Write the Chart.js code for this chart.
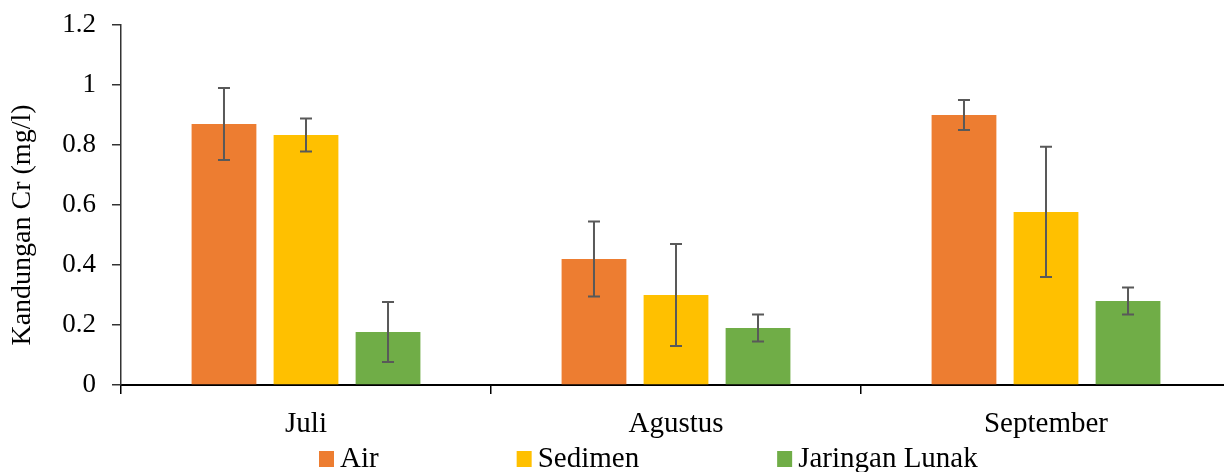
<!DOCTYPE html>
<html>
<head>
<meta charset="utf-8">
<script src="https://cdn.jsdelivr.net/npm/chart.js@4"></script>
<style>
  html, body { margin: 0; padding: 0; background: #fff; overflow: hidden; }
  #wrap { width: 1232px; height: 472px; }
</style>
</head>
<body>
<div id="wrap"><canvas id="chart"></canvas></div>
<script>
const months = ['Juli', 'Agustus', 'September'];
const airVals = [0.87, 0.42, 0.90];
const airErr = [0.12, 0.125, 0.05];
const sedimenVals = [0.833, 0.30, 0.577];
const sedimenErr = [0.055, 0.17, 0.217];
const lunakVals = [0.177, 0.19, 0.28];
const lunakErr = [0.10, 0.045, 0.045];
const yTicks = [0, 0.2, 0.4, 0.6, 0.8, 1, 1.2];
const yTitle = 'Kandungan Cr (mg/l)';

const errors = [airErr, sedimenErr, lunakErr];
const serif = "'Liberation Serif', 'Times New Roman', serif";

// whiskers on top of each bar
const errorBars = {
  id: 'errorBars',
  afterDatasetsDraw(chart){
    const ctx = chart.ctx;
    const y = chart.scales.y;
    ctx.save();
    ctx.strokeStyle = '#595959';
    ctx.lineWidth = 2;
    chart.data.datasets.forEach((ds, i) => {
      chart.getDatasetMeta(i).data.forEach((bar, j) => {
        const v = ds.data[j], e = errors[i][j];
        const top = y.getPixelForValue(v + e);
        const bot = y.getPixelForValue(v - e);
        ctx.beginPath();
        ctx.moveTo(bar.x, top); ctx.lineTo(bar.x, bot);
        ctx.moveTo(bar.x - 6, top); ctx.lineTo(bar.x + 6, top);
        ctx.moveTo(bar.x - 6, bot); ctx.lineTo(bar.x + 6, bot);
        ctx.stroke();
      });
    });
    ctx.restore();
  }
};

// excel style legend + axis title (placed like the excel original)
const excelBits = {
  id: 'excelBits',
  afterDraw(chart){
    const ctx = chart.ctx;
    ctx.save();
    ctx.font = '29px ' + serif;
    ctx.textBaseline = 'alphabetic';
    let x = 319;
    chart.data.datasets.forEach(ds => {
      ctx.fillStyle = ds.backgroundColor;
      ctx.fillRect(x, 451, 15, 16);
      ctx.fillStyle = '#000';
      ctx.fillText(ds.label, x + 21, 467);
      x += 21 + ctx.measureText(ds.label).width + 138;
    });

    ctx.font = '28px ' + serif;
    ctx.translate(30, 225);
    ctx.rotate(-Math.PI / 2);
    ctx.textAlign = 'center';
    ctx.fillText(yTitle, 0, 0);
    ctx.restore();
  }
};

new Chart(document.getElementById('chart'), {
  type: 'bar',
  data: {
    labels: months,
    datasets: [
      { label: 'Air', data: airVals, backgroundColor: '#ED7D31' },
      { label: 'Sedimen', data: sedimenVals, backgroundColor: '#FFC000' },
      { label: 'Jaringan Lunak', data: lunakVals, backgroundColor: '#70AD47' }
    ]
  },
  options: {
    responsive: true,
    maintainAspectRatio: false,
    animation: false,
    categoryPercentage: 0.665,
    barPercentage: 0.79,
    layout: { padding: { top: 25, left: 0, right: 1, bottom: 0 } },
    plugins: {
      legend: { display: false },
      tooltip: { enabled: false }
    },
    scales: {
      x: {
        offset: true,
        afterFit: s => { s.height = 87; },
        grid: { offset: true, drawOnChartArea: false, color: '#000', tickLength: 9, lineWidth: 1.5 },
        border: { color: '#000', width: 2 },
        ticks: { font: { family: serif, size: 29 }, color: '#000', padding: 13 }
      },
      y: {
        min: 0,
        max: 1.2,
        afterFit: s => { s.width = 121; s.paddingTop = 0; s.paddingBottom = 0; },
        afterBuildTicks: scale => { scale.ticks = yTicks.map(v => ({ value: v })); },
        grid: { drawOnChartArea: false, color: '#333', tickLength: 9, lineWidth: 1.5 },
        border: { color: '#333', width: 1.5 },
        ticks: {
          font: { family: serif, size: 27 }, color: '#000', padding: 16,
          callback: v => String(+v.toFixed(1))
        }
      }
    }
  },
  plugins: [errorBars, excelBits]
});
</script>
</body>
</html>
